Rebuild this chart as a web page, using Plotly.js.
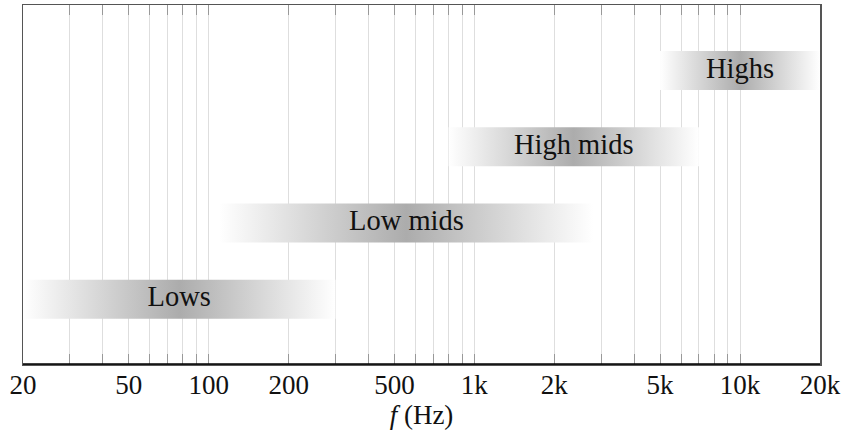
<!DOCTYPE html>
<html>
<head>
<meta charset="utf-8">
<script src="https://cdn.plot.ly/plotly-3.0.1.min.js"></script>
<style>html,body{margin:0;padding:0;background:#fff;}#chart{width:842px;height:442px;}</style>
</head>
<body>
<div id="chart"></div>
<script>
// Frequency bands
var bandNames = ['Lows', 'Low mids', 'High mids', 'Highs'];
var bandStart = [20, 110, 800, 5000];
var bandEnd = [300, 2800, 7000, 20000];
var bandLevel = [1, 2, 3, 4];

// Axis grid / tick values and labels
var gridVals = [20, 30, 40, 50, 60, 70, 80, 90, 100,
  200, 300, 400, 500, 600, 700, 800, 900, 1000,
  2000, 3000, 4000, 5000, 6000, 7000, 8000, 9000, 10000, 20000];
var labelledVals = [20, 50, 100, 200, 500, 1000, 2000, 5000, 10000, 20000];
var labelTexts = ['20', '50', '100', '200', '500', '1k', '2k', '5k', '10k', '20k'];

var FONT = 'Liberation Serif, Times New Roman, serif';
var halfH = 0.255;

var traces = [];
for (var i = 0; i < bandNames.length; i++) {
  var x0 = bandStart[i], x1 = bandEnd[i], y = bandLevel[i];
  traces.push({
    type: 'scatter', mode: 'lines',
    x: [x0, x1, x1, x0, x0],
    y: [y - halfH, y - halfH, y + halfH, y + halfH, y - halfH],
    fill: 'toself',
    line: {width: 0, color: 'rgba(0,0,0,0)'},
    fillcolor: '#c0c0c0',
    fillgradient: {
      type: 'horizontal',
      colorscale: [[0, '#ffffff'], [0.5, '#acacac'], [1, '#ffffff']]
    },
    hoverinfo: 'skip', showlegend: false
  });
}
traces.push({
  type: 'scatter', mode: 'text',
  x: bandStart.map(function (s, i) { return Math.sqrt(s * bandEnd[i]); }),
  y: bandLevel,
  text: bandNames,
  textposition: 'middle center',
  textfont: {family: FONT, size: 28.5, color: '#111'},
  hoverinfo: 'skip', showlegend: false
});

var ticktext = gridVals.map(function (v) {
  var k = labelledVals.indexOf(v);
  return k >= 0 ? labelTexts[k] : '';
});

var layout = {
  width: 842, height: 442,
  margin: {l: 23, r: 22, t: 5, b: 78},
  paper_bgcolor: '#fff', plot_bgcolor: '#fff',
  showlegend: false,
  hovermode: false,
  font: {family: FONT, size: 27, color: '#111'},
  xaxis: {
    type: 'log',
    range: [Math.log10(20), Math.log10(20000)],
    tickmode: 'array', tickvals: gridVals, ticktext: ticktext,
    ticks: 'inside', ticklen: 10, tickcolor: '#999', tickwidth: 1,
    ticklabelstandoff: -4,
    showgrid: true, gridcolor: '#dedede', gridwidth: 1,
    showline: true, linecolor: '#555', linewidth: 1.5, mirror: 'allticks',
    tickfont: {family: FONT, size: 27, color: '#111'},
    title: {text: '<i>f</i> (Hz)', font: {family: FONT, size: 27, color: '#111'}, standoff: 4},
    zeroline: false, fixedrange: true
  },
  yaxis: {
    range: [0.15, 4.86],
    showticklabels: false, ticks: '', showgrid: false, zeroline: false,
    showline: true, linecolor: '#555', linewidth: 1.5, mirror: true,
    fixedrange: true
  },
  shapes: [{
    type: 'line', xref: 'paper', yref: 'paper', x0: 0, x1: 1, y0: 0, y1: 0,
    line: {color: '#000', width: 1.5}, layer: 'above'
  }]
};

Plotly.newPlot('chart', traces, layout, {displayModeBar: false, staticPlot: true});
</script>
</body>
</html>
